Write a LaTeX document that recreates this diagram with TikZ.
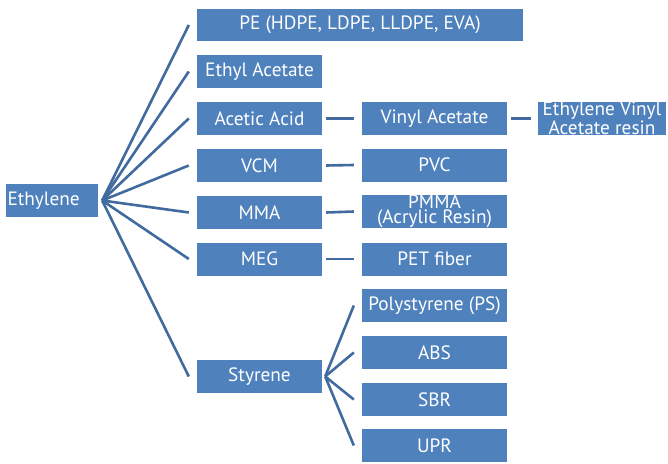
\documentclass[tikz,border=0pt]{standalone}
\usepackage{fontspec}
\setmainfont{PT Sans}
\definecolor{boxblue}{HTML}{4F81BD}
\definecolor{linkblue}{HTML}{416A9E}
\begin{document}
\begin{tikzpicture}[x=1pt,y=-1pt,
  prod/.style={fill=boxblue, draw=none, text=white, inner sep=0pt,
    minimum height=33pt, font=\fontsize{19.3}{15.5}\selectfont, align=center},
  col/.style={prod, minimum width=125pt},
  sub/.style={prod, minimum width=145pt},
  link/.style={draw=linkblue, line width=2.6pt}]
\useasboundingbox (0,0) rectangle (668,463);

% feedstock
\node[prod, minimum width=92pt, text width=89pt, align=left] (eth) at (52,200.5) {Ethylene};

% first-level derivatives
\node[prod, minimum width=326pt, minimum height=32pt] (pe) at (360,25) {PE (HDPE, LDPE, LLDPE, EVA)};
\node[col] (ea)  at (259.5,71.5)  {Ethyl Acetate};
\node[col] (aa)  at (259.5,118.5) {Acetic Acid};
\node[col] (vcm) at (259.5,165.5) {VCM};
\node[col] (mma) at (259.5,212.5) {MMA};
\node[col] (meg) at (259.5,259)   {MEG};
\node[col] (sty) at (259.5,376.5) {Styrene};

% second-level products
\node[sub] (va)   at (434.5,118.5) {Vinyl Acetate};
\node[sub] (pvc)  at (434.5,165)   {PVC};
\node[sub] (pmma) at (434.5,211.5) {PMMA\\(Acrylic Resin)};
\node[sub] (pet)  at (434.5,259)   {PET fiber};
\node[sub] (ps)   at (434.5,305.5) {Polystyrene (PS)};
\node[sub] (abs)  at (434.5,352.5) {ABS};
\node[sub] (sbr)  at (434.5,399.5) {SBR};
\node[sub] (upr)  at (434.5,445.5) {UPR};

% resin
\node[prod, minimum width=128pt] (evar) at (602,118.5) {Ethylene Vinyl\\Acetate resin};

% fan out of ethylene
\coordinate (ethtip) at ([xshift=4pt]eth.east);
\foreach \t in {pe,ea,aa,vcm,mma,meg,sty}
  \draw[link] (ethtip) -- ([xshift=-8pt]\t.west);

% straight links
\draw[link] ([xshift=4pt]aa.east)  -- ([xshift=-8pt]va.west);
\draw[link] ([xshift=4pt]vcm.east) -- ([xshift=-8pt]pvc.west);
\draw[link] ([xshift=4pt]mma.east) -- ([xshift=-8pt]pmma.west);
\draw[link] ([xshift=4pt]meg.east) -- ([xshift=-8pt]pet.west);
\draw[link] ([xshift=4pt]va.east)  -- ([xshift=-7pt]evar.west);

% fan out of styrene
\coordinate (stytip) at ([xshift=3pt]sty.east);
\foreach \t in {ps,abs,sbr,upr}
  \draw[link] (stytip) -- ([xshift=-8pt]\t.west);
\end{tikzpicture}
\end{document}
